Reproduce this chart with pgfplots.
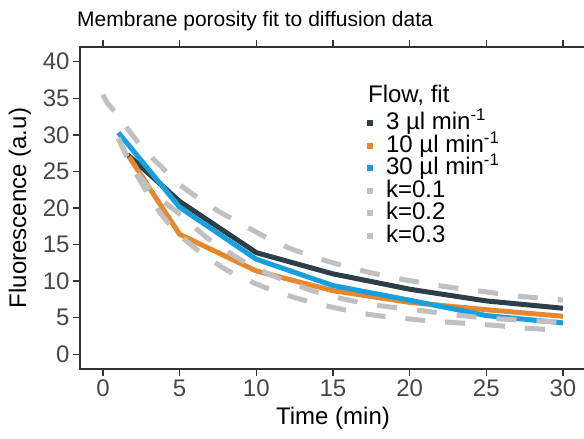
\documentclass[border=0pt]{standalone}
\usepackage{fontspec}
\setmainfont{Liberation Sans}
\usepackage{pgfplots}
\pgfplotsset{compat=1.18}
\definecolor{cdark}{HTML}{2C3E48}
\definecolor{corange}{HTML}{E6892E}
\definecolor{cblue}{HTML}{17A0DC}
\definecolor{cgray}{HTML}{C0C0C0}
\definecolor{caxis}{HTML}{333333}
\begin{document}
\begin{tikzpicture}
\begin{axis}[
  scale only axis, width=506pt, height=322pt,
  xmin=-1.5, xmax=31.5, ymin=-2, ymax=42,
  xtick={0,5,...,30}, ytick={0,5,...,40},
  tick align=outside, major tick length=7pt,
  axis line style={line width=1.4pt, color=caxis},
  every tick/.style={line width=1.4pt, color=caxis},
  /pgf/number format/assume math mode=true,
  tick label style={font=\fontsize{24}{28}\selectfont, text=black!72},
  xlabel={Time (min)}, ylabel={Fluorescence (a.u)},
  label style={font=\fontsize{24}{28}\selectfont},
  xlabel style={at={(axis description cs:0.5,-0.1739)}, anchor=base},
  ylabel style={at={(axis description cs:-0.1186,0.5)}, anchor=center},
  legend style={at={(axis description cs:0.567,0.7935)}, anchor=north west,
    draw=none, fill=none, inner sep=0pt, row sep=1.5pt,
    font=\fontsize{24}{28}\selectfont,
    nodes={inner sep=1pt, text height=15pt, text depth=4pt}},
  legend cell align=left,
  legend image code/.code={\path[#1, draw=none, fill] (0pt,-2pt) rectangle (6pt,4pt);},
  /tikz/every odd column/.append style={column sep=12pt},
]
\addplot[color=cdark, line width=5pt, line join=round] coordinates {
 (1.6,27.3) (5,20.9) (10,13.9) (15,11.0) (20,8.9) (25,7.3) (30,6.3)};
\addlegendentry{3 µl min\textsuperscript{-1}}
\addplot[color=corange, line width=5pt, line join=round] coordinates {
 (1.7,27.0) (5,16.4) (10,11.4) (15,8.7) (20,7.1) (25,6.1) (30,5.2)};
\addlegendentry{10 µl min\textsuperscript{-1}}
\addplot[color=cblue, line width=5pt, line join=round] coordinates {
 (1.0,30.3) (5,20.1) (10,13.0) (15,9.4) (20,7.4) (25,5.3) (30,4.3)};
\addlegendentry{30 µl min\textsuperscript{-1}}
\addplot[color=cgray, line width=5pt, dash pattern=on 20pt off 20pt, smooth] coordinates {
 (0,35.5) (0.3,34.3) (1,32.6) (2.08,29.5) (3,27.3) (3.97,25.3) (5,23.2) (6.26,21.3) (7.5,19.6) (8.7,18.2) (10,16.7) (11,15.6) (12.3,14.4) (13.7,13.4) (15,12.5) (16.6,11.6) (18,10.9) (19.4,10.3) (20.8,9.8) (22.2,9.3) (23.6,8.9) (25.1,8.5) (26.5,8.1) (27.9,7.8) (30,7.4)};
\addlegendentry{k=0.1}
\addplot[color=cgray, line width=5pt, dash pattern=on 20pt off 20pt, smooth] coordinates {
 (1.0,29.5) (1.7,26.6) (2.4,24.3) (3.5,21.6) (4.8,19.5) (6,17.3) (7.05,15.5) (8.3,13.8) (9.5,12.3) (10.8,11.0) (12.1,9.9) (13.5,8.8) (15,7.9) (16.3,7.3) (17.6,6.8) (19,6.4) (20.3,6.1) (21.8,5.7) (23.4,5.3) (24.8,5.0) (26.2,4.8) (28,4.6) (30,4.4)};
\addlegendentry{k=0.2}
\addplot[color=cgray, line width=5pt, dash pattern=on 20pt off 20pt, smooth] coordinates {
 (1.0,29.5) (1.7,26.4) (2.4,23.8) (3.2,21.0) (4.0,18.6) (5,16.3) (6.2,14.2) (7.4,12.4) (8.6,10.9) (9.8,9.8) (11.0,8.8) (12.6,7.7) (14.2,6.8) (15.5,6.2) (16.9,5.6) (18.3,5.2) (19.7,4.9) (21.1,4.6) (22.5,4.4) (23.9,4.2) (25.3,4.0) (26.7,3.75) (28.1,3.5) (30,3.3)};
\addlegendentry{k=0.3}
\node[anchor=base west, inner sep=0pt, font=\fontsize{24}{28}\selectfont] at (axis description cs:0.569,0.829) {Flow, fit};
\end{axis}
\node[anchor=base west, inner sep=0pt, font=\fontsize{21}{25}\selectfont] at (-3pt,342pt) {Membrane porosity fit to diffusion data};
\pgfresetboundingbox
\useasboundingbox (-80pt,-70pt) rectangle (504pt,369pt);
\end{tikzpicture}
\end{document}
